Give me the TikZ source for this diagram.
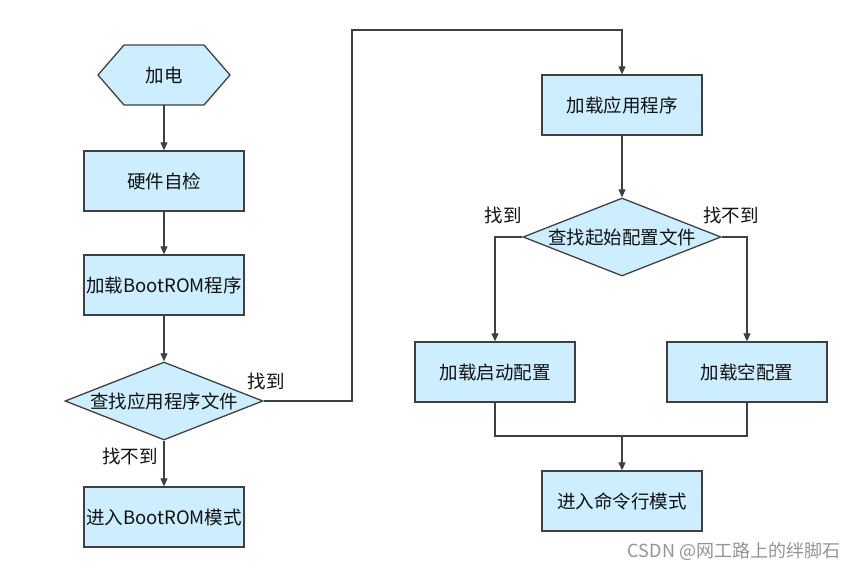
\documentclass[tikz,border=0pt]{standalone}
\usepackage{fontspec}
\setmainfont{Noto Sans CJK SC}
\usetikzlibrary{arrows.meta,shapes.geometric}
\definecolor{boxfill}{HTML}{CCEEFF}
\definecolor{edgecol}{HTML}{404040}
\definecolor{txtcol}{HTML}{111111}
\begin{document}
\begin{tikzpicture}[x=1pt,y=-1pt,
  every node/.style={font=\fontsize{18.5}{21}\selectfont, text=txtcol},
  procbox/.style={draw=edgecol, line width=1.3pt, fill=boxfill, minimum width=160pt, minimum height=60pt, inner sep=0pt},
  decision/.style={draw=edgecol, line width=1.3pt, fill=boxfill, shape=diamond, aspect=2.54, minimum width=198pt, minimum height=78pt, inner sep=0pt},
  conn/.style={draw=edgecol, line width=1.1pt},
  arr/.style={conn, -{Triangle[length=8pt,width=7pt]}},
  lbl/.style={inner sep=0pt}
]
\useasboundingbox (0,0) rectangle (865,571);
% hexagon start
\filldraw[draw=edgecol, line width=1.3pt, fill=boxfill]
  (98,75) -- (124,45) -- (204,45) -- (230,75) -- (204,105) -- (124,105) -- cycle;
\node (hex) [minimum width=132pt, minimum height=60pt, inner sep=0pt] at (164,75) {加电};
\node (check) [procbox] at (164,181) {硬件自检};
\node (loadrom) [procbox] at (164,285) {加载BootROM程序};
\node (d1) [decision] at (164,401) {查找应用程序文件};
\node (rommode) [procbox] at (164,517) {进入BootROM模式};
\node (app) [procbox] at (622,105) {加载应用程序};
\node (d2) [decision] at (622,237) {查找起始配置文件};
\node (bootcfg) [procbox] at (495,372) {加载启动配置};
\node (emptycfg) [procbox] at (747,372) {加载空配置};
\node (cli) [procbox] at (622,501) {进入命令行模式};
\coordinate (c1) at (352,30);
\coordinate (m) at (622,436);
% connectors
\draw[arr] (hex.south) -- (check.north);
\draw[arr] (check.south) -- (loadrom.north);
\draw[arr] (loadrom.south) -- (d1.north);
\draw[arr] (d1.south) -- (rommode.north);
\draw[arr] (d1.east) -| (c1) -| (app.north);
\draw[arr] (app.south) -- (d2.north);
\draw[arr] (d2.west) -| (bootcfg.north);
\draw[arr] (d2.east) -| (emptycfg.north);
\draw[conn] (bootcfg.south) |- (m);
\draw[conn] (emptycfg.south) |- (m);
\draw[arr] (m) -- (cli.north);
% labels
\node (l1) [lbl] at (266,381) {找到};
\node (l2) [lbl] at (130,456) {找不到};
\node (l3) [lbl] at (503,215) {找到};
\node (l4) [lbl] at (731,215) {找不到};
\node (wm) [lbl, text=black!42, font=\fontsize{18}{20}\selectfont] at (734,551) {CSDN @网工路上的绊脚石};
\end{tikzpicture}
\end{document}
